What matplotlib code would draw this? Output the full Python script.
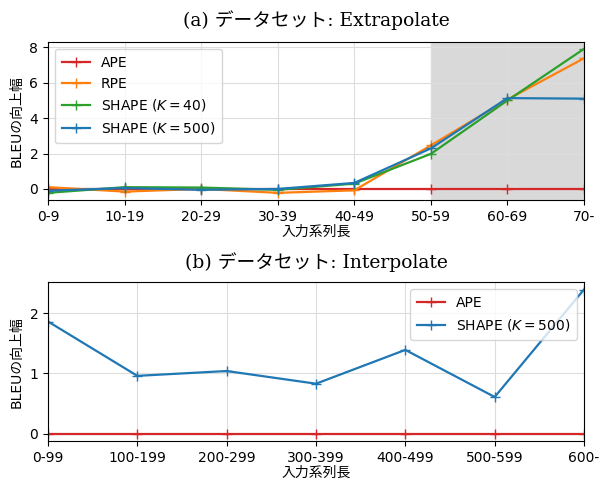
import numpy as np
import matplotlib
matplotlib.use('Agg')
from matplotlib import pyplot as plt

plt.rcParams['font.family'] = ['DejaVu Sans', 'Noto Sans CJK JP']
plt.rcParams['mathtext.fontset'] = 'dejavusans'

# data: extrapolate
ext_labels = ['0-9', '10-19', '20-29', '30-39', '40-49', '50-59', '60-69', '70-']
ext_ape = [0.0, 0.0, 0.0, 0.0, 0.0, 0.0, 0.0, 0.0]
ext_rpe = [0.1, -0.15, 0.0, -0.22, -0.08, 2.46, 5.05, 7.38]
ext_shape40 = [-0.22, 0.1, 0.08, -0.05, 0.3, 1.98, 5.0, 7.91]
ext_shape500 = [-0.1, 0.05, -0.05, 0.0, 0.34, 2.29, 5.13, 5.1]

# data: interpolate
int_labels = ['0-99', '100-199', '200-299', '300-399', '400-499', '500-599', '600-']
int_ape = [0.0, 0.0, 0.0, 0.0, 0.0, 0.0, 0.0]
int_shape500 = [1.86, 0.96, 1.04, 0.83, 1.39, 0.61, 2.39]

title_font = ['DejaVu Serif', 'Noto Sans CJK JP']

fig = plt.figure(figsize=(6.01, 4.82), dpi=100)
ax1 = fig.add_axes([0.0799, 0.585, 0.8918, 0.3285])
ax2 = fig.add_axes([0.0799, 0.085, 0.8918, 0.3293])

# (a)
x = np.arange(len(ext_labels))
ax1.axvspan(5, 7, color='#d9d9d9', zorder=0)
ax1.plot(x, ext_ape, color='tab:red', marker='+', ms=7, lw=1.6, label='APE')
ax1.plot(x, ext_rpe, color='tab:orange', marker='+', ms=7, lw=1.6, label='RPE')
ax1.plot(x, ext_shape40, color='tab:green', marker='+', ms=7, lw=1.6, label='SHAPE ($K = 40$)')
ax1.plot(x, ext_shape500, color='tab:blue', marker='+', ms=7, lw=1.6, label='SHAPE ($K = 500$)')
ax1.set_xlim(0, 7)
ax1.set_xticks(x)
ax1.set_xticklabels(ext_labels)
ax1.set_yticks([0, 2, 4, 6, 8])
ax1.grid(True, color='#dddddd', lw=0.8)
ax1.set_axisbelow(True)
ax1.set_title('(a) データセット: Extrapolate', family=title_font, fontsize=13.5, pad=11)
ax1.set_xlabel('入力系列長', fontsize=10, labelpad=1)
ax1.set_ylabel('BLEUの向上幅', fontsize=10)
ax1.legend(loc='upper left', fontsize=10, borderpad=0.5)

# (b)
x2 = np.arange(len(int_labels))
ax2.plot(x2, int_ape, color='tab:red', marker='+', ms=7, lw=1.6, label='APE')
ax2.plot(x2, int_shape500, color='tab:blue', marker='+', ms=7, lw=1.6, label='SHAPE ($K = 500$)')
ax2.set_xlim(0, 6)
ax2.set_xticks(x2)
ax2.set_xticklabels(int_labels)
ax2.set_yticks([0, 1, 2])
ax2.grid(True, color='#dddddd', lw=0.8)
ax2.set_axisbelow(True)
ax2.set_title('(b) データセット: Interpolate', family=title_font, fontsize=13.5, pad=10)
ax2.set_xlabel('入力系列長', fontsize=10, labelpad=1)
ax2.set_ylabel('BLEUの向上幅', fontsize=10)
ax2.legend(loc='upper right', fontsize=10, borderpad=0.5)

for ax in (ax1, ax2):
    ax.tick_params(labelsize=10)

plt.savefig('out.png', dpi=100)
